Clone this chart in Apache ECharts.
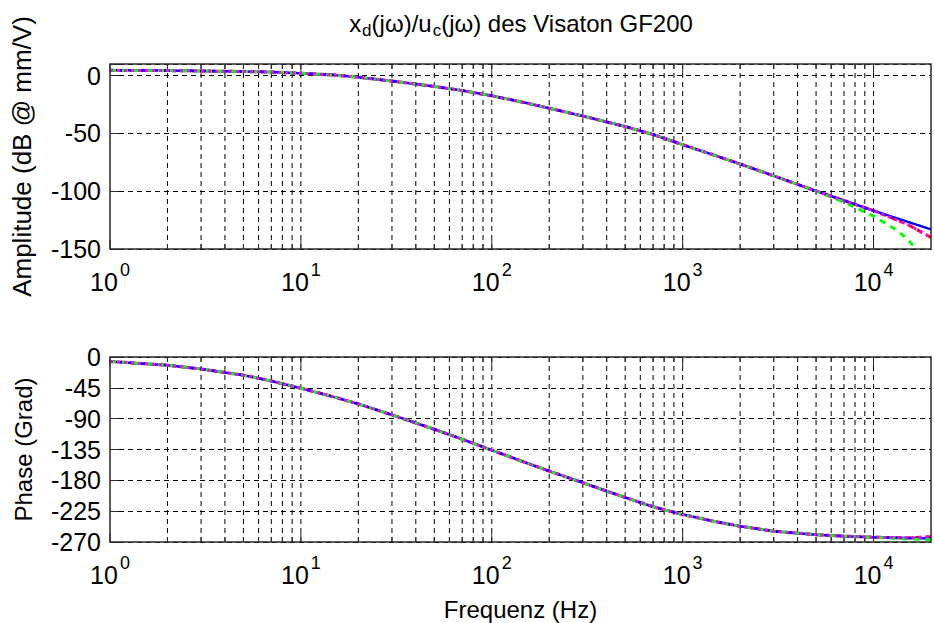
<!DOCTYPE html>
<html><head><meta charset="utf-8">
<script src="https://cdn.jsdelivr.net/npm/echarts@6/dist/echarts.min.js"></script>
<style>html,body{margin:0;padding:0;background:#fff}#c{width:934px;height:623px}</style>
</head><body><div id="c"></div><script>
// ---- data ----
const freq = [1, 2, 3, 5, 7, 10, 15, 20, 30, 50, 70, 100, 150, 200, 300, 500, 700, 1000, 1500, 2000, 3000, 5000, 7000, 10000, 15000, 20000];
const ampBlue  = [4.5, 4.3, 4.0, 3.5, 3.0, 2.0, 0.4, -1.4, -4.8, -9.4, -13.0, -17.5, -23.5, -28.3, -35.0, -44.1, -51.0, -59.8, -69.5, -76.5, -86.7, -99.8, -108.1, -116.8, -126.3, -133.0];
const ampRed   = [4.5, 4.3, 4.0, 3.5, 3.0, 2.0, 0.4, -1.4, -4.8, -9.4, -13.0, -17.5, -23.5, -28.3, -35.0, -44.1, -51.0, -59.8, -69.5, -76.5, -86.7, -99.8, -108.1, -116.8, -128.5, -140.0];
const freqGreenAmp = [1, 2, 3, 5, 7, 10, 15, 20, 30, 50, 70, 100, 150, 200, 300, 500, 700, 1000, 1500, 2000, 3000, 5000, 7000, 10000, 13000, 15000, 16700];
const ampGreen = [4.5, 4.3, 4.0, 3.5, 3.0, 2.0, 0.4, -1.4, -4.8, -9.4, -13.0, -17.5, -23.5, -28.3, -35.0, -44.1, -51.0, -59.8, -69.5, -76.5, -86.7, -99.8, -109.5, -121.5, -133.0, -141.0, -150.0];
const ampMagenta = ampRed;
const phBlue  = [-6.5, -12, -17.5, -26.5, -35, -45.5, -58.5, -68.5, -84.5, -105.5, -120, -136, -154, -166.5, -183.5, -205, -218.5, -230, -240.5, -247, -254.3, -259.3, -261.5, -263, -264.2, -265];
const phRed   = [-6.5, -12, -17.5, -26.5, -35, -45.5, -58.5, -68.5, -84.5, -105.5, -120, -136, -154, -166.5, -183.5, -205, -218.5, -230, -240.5, -247, -254.3, -259.3, -261.5, -263, -264, -262.5];
const phGreen = [-6.5, -12, -17.5, -26.5, -35, -45.5, -58.5, -68.5, -84.5, -105.5, -120, -136, -154, -166.5, -183.5, -205, -218.5, -230, -240.5, -247, -254.3, -259.3, -261.5, -263.3, -265.5, -266.5];
const phMagenta = phRed;
const decades = [1, 10, 100, 1000, 10000];
const minorFreq = [2,3,4,5,6,7,8,9,20,30,40,50,60,70,80,90,200,300,400,500,600,700,800,900,2000,3000,4000,5000,6000,7000,8000,9000];
const ampTicks = [0, -50, -100, -150];
const phaseTicks = [0, -45, -90, -135, -180, -225, -270];

// ---- chart ----
const FONT = '"Liberation Sans", Arial, sans-serif';
const DASH = [5, 4];
const FRAME = '#2a2a2a';
const chart = echarts.init(document.getElementById('c'), null, {renderer: 'svg'});

function xLabel(v) {
  const e = Math.round(Math.log10(v));
  if (Math.abs(Math.pow(10, e) - v) > 1e-6 * v) return '';
  return '{b|10}{e|' + e + '}';
}
const richX = {
  b: {fontFamily: FONT, fontSize: 25, color: '#000'},
  e: {fontFamily: FONT, fontSize: 18, color: '#000', padding: [0, 0, 24, 2]}
};
const grids = [
  {left: 110, top: 64, width: 823, height: 185},
  {left: 110, top: 357, width: 823, height: 185}
];
const yRanges = [[-150, 10, 50, ampTicks], [-270, 0, 45, phaseTicks]];
const yNames = ['Amplitude (dB @ mm/V)', 'Phase (Grad)'];
const yNameSize = [26, 24];

function xAxis(i) {
  return {
    type: 'log', logBase: 10, gridIndex: i, min: 1, max: 20000,
    axisLine: {show: false}, axisTick: {show: false}, splitLine: {show: false},
    axisLabel: {formatter: xLabel, rich: richX, margin: 12},
    name: i === 1 ? 'Frequenz (Hz)' : '', nameLocation: 'middle', nameGap: 55,
    nameTextStyle: {fontFamily: FONT, fontSize: 24, color: '#000'}
  };
}
function yAxis(i) {
  const r = yRanges[i];
  return {
    type: 'value', gridIndex: i, min: r[0], max: r[1], interval: r[2],
    axisLine: {show: false},
    axisTick: {show: true, inside: true, length: 9, lineStyle: {color: FRAME, width: 1}},
    axisLabel: {fontFamily: FONT, fontSize: 25, color: '#000', margin: 9,
      formatter: v => (r[3].indexOf(v) >= 0 ? String(v) : '')},
    splitLine: {show: true, lineStyle: {color: '#000', type: DASH, width: 1}},
    name: yNames[i],
    nameLocation: 'middle', nameGap: 75,
    nameTextStyle: {fontFamily: FONT, fontSize: yNameSize[i], color: '#000'}
  };
}
function gridSeries(i) {
  const r = yRanges[i];
  const all = decades.concat(minorFreq);
  return {
    type: 'custom', xAxisIndex: i, yAxisIndex: i, silent: true, clip: false, z: 1,
    animation: false,
    data: all.map(f => [f, r[0]]),
    renderItem(params, api) {
      const f = api.value(0);
      const isMajor = decades.indexOf(f) >= 0;
      const pb = api.coord([f, r[0]]);
      const pt = api.coord([f, r[1]]);
      const len = isMajor ? 9 : 5;
      const kids = [];
      if (f > 1) kids.push({type: 'line', shape: {x1: pb[0], y1: pb[1], x2: pt[0], y2: pt[1]},
        style: {stroke: '#000', lineWidth: 1, lineDash: DASH}});
      kids.push({type: 'line', shape: {x1: pb[0], y1: pb[1], x2: pb[0], y2: pb[1] - len}, style: {stroke: FRAME, lineWidth: 1}});
      kids.push({type: 'line', shape: {x1: pt[0], y1: pt[1], x2: pt[0], y2: pt[1] + len}, style: {stroke: FRAME, lineWidth: 1}});
      return {type: 'group', children: kids};
    }
  };
}
function line(i, xs, ys, color, type, width, z) {
  return {
    type: 'line', xAxisIndex: i, yAxisIndex: i, data: xs.map((f, k) => [f, ys[k]]),
    showSymbol: false, symbol: 'none', smooth: false, z: z, animation: false,
    lineStyle: {color: color, type: type, width: width}
  };
}

chart.setOption({
  animation: false,
  backgroundColor: '#fff',
  grid: grids.map(g => Object.assign({show: true, borderColor: FRAME, borderWidth: 1.5, backgroundColor: 'transparent', z: 10}, g)),
  xAxis: [xAxis(0), xAxis(1)],
  yAxis: [yAxis(0), yAxis(1)],
  graphic: [{
    type: 'text', x: 521, y: 23, z: 100,
    style: {
      text: '{n|x}{s|d}{n|(jω)/u}{s|c}{n|(jω) des Visaton GF200}',
      align: 'center', verticalAlign: 'middle',
      rich: {
        n: {fontFamily: FONT, fontSize: 24, fill: '#000', color: '#000'},
        s: {fontFamily: FONT, fontSize: 17, fill: '#000', color: '#000', padding: [14, 0, 0, 1]}
      }
    }
  }],
  series: [
    gridSeries(0), gridSeries(1),
    line(0, freq, ampRed, '#ff0000', [6, 4], 3, 3),
    line(0, freq, ampBlue, '#0000ff', 'solid', 2.5, 4),
    line(0, freqGreenAmp, ampGreen, '#00ff00', [6, 6], 3, 5),
    line(0, freq, ampMagenta, '#ff00ff', [3, 4], 3, 6),
    line(1, freq, phRed, '#ff0000', [6, 4], 3, 3),
    line(1, freq, phBlue, '#0000ff', 'solid', 2.5, 4),
    line(1, freq, phGreen, '#00ff00', [6, 6], 3, 5),
    line(1, freq, phMagenta, '#ff00ff', [3, 4], 3, 6)
  ]
});
</script></body></html>
